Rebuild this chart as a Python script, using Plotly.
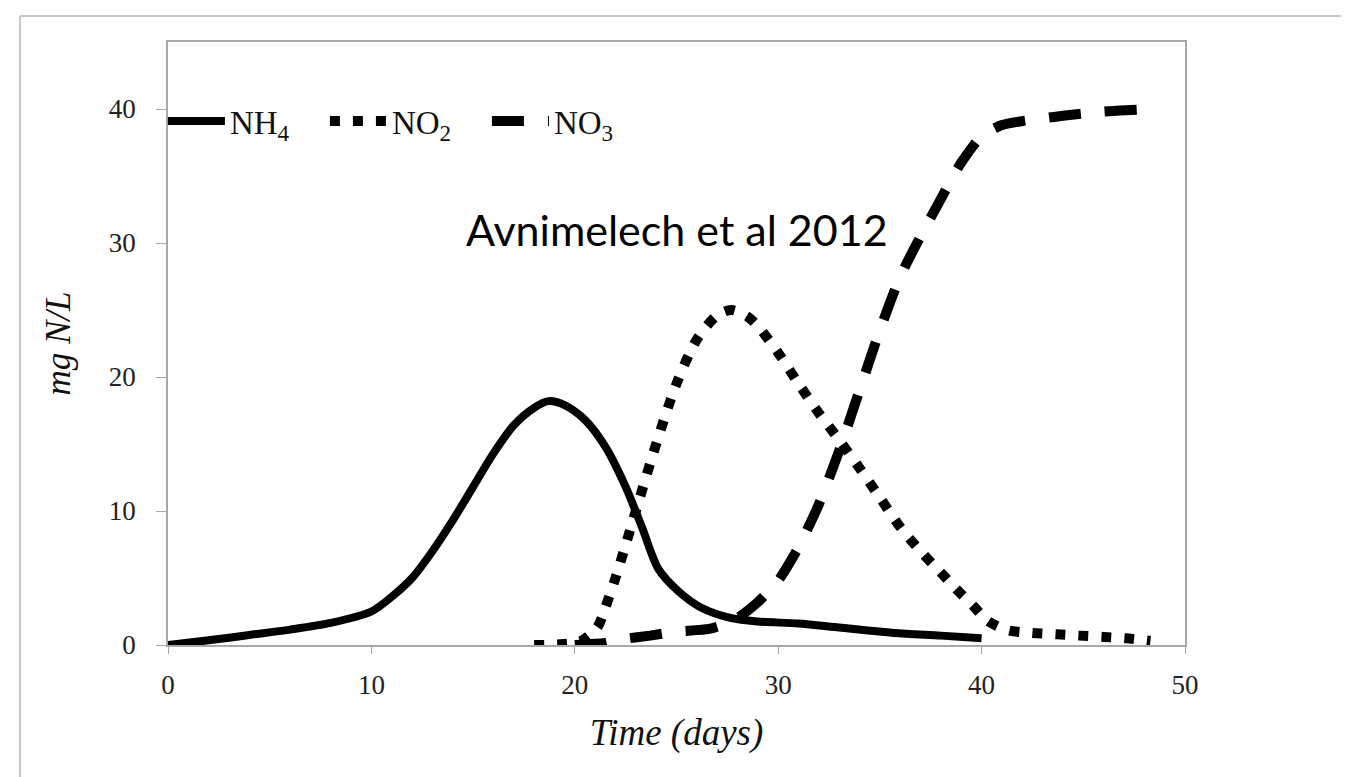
import plotly.graph_objects as go

# NH4 (solid)
nh4_days = [0, 2, 4, 6, 8, 10, 11, 12, 13, 14, 15, 16, 17, 18, 18.7, 19.5, 20.5, 21.5,
            22.5, 23.3, 24.1, 25.1, 26.2, 27.7, 29, 31, 33, 35.7, 38, 40]
nh4_vals = [0, 0.35, 0.75, 1.15, 1.65, 2.5, 3.6, 5.0, 7.0, 9.3, 11.8, 14.3, 16.4, 17.7, 18.2, 17.9, 16.8, 14.8,
            11.8, 8.8, 5.7, 4.0, 2.8, 2.0, 1.75, 1.6, 1.3, 0.9, 0.7, 0.5]

# NO2 (dotted)
no2_days = [18, 19.3, 20.3, 21.1, 21.5, 22, 23, 24, 25, 26, 27, 27.7, 28.5, 29, 30, 31, 32, 33,
            34, 35, 36, 37, 38, 38.8, 39.6, 40.3, 41.3, 42.5, 43.7, 44.8, 46, 47.1, 48.3]
no2_vals = [0, 0.05, 0.3, 1.3, 2.8, 5.0, 10.0, 15.0, 19.5, 22.8, 24.6, 25.0, 24.5, 23.8, 21.8, 19.5, 17.3, 15.3,
            13.2, 11.0, 8.8, 7.0, 5.4, 4.1, 2.9, 1.8, 1.1, 0.9, 0.8, 0.7, 0.6, 0.5, 0.3]

# NO3 (dashed)
no3_days = [20, 21.5, 22.2, 23.7, 25, 26.6, 27.8, 29, 30, 31, 32, 33, 34, 35, 36, 37, 38, 39,
            40, 41, 42, 43, 44, 46, 48.5]
no3_vals = [0, 0.15, 0.4, 0.7, 1.0, 1.2, 1.8, 3.2, 4.8, 7.3, 10.5, 14.5, 19.0, 23.5, 27.5, 30.5, 33.3, 36.0,
            38.0, 38.8, 39.1, 39.3, 39.5, 39.8, 40.0]

x_ticks = [0, 10, 20, 30, 40, 50]
y_ticks = [0, 10, 20, 30, 40]

fig = go.Figure()
fig.add_trace(go.Scatter(x=nh4_days, y=nh4_vals, mode='lines', name='NH<sub>4</sub>',
                         line=dict(color='black', width=8, shape='spline', smoothing=0.8)))
fig.add_trace(go.Scatter(x=no2_days, y=no2_vals, mode='lines', name='NO<sub>2</sub>',
                         line=dict(color='black', width=10, dash='10px,13px', shape='spline', smoothing=0.8)))
fig.add_trace(go.Scatter(x=no3_days, y=no3_vals, mode='lines', name='NO<sub>3</sub>',
                         line=dict(color='black', width=10, dash='32px,24px', shape='spline', smoothing=0.6)))

axis_col = '#a8a8a8'
serif = 'Liberation Serif'

fig.update_xaxes(range=[0, 50], tickvals=x_ticks, showline=True, linecolor=axis_col, linewidth=1.5, mirror=True,
                 ticks='outside', ticklen=7, tickcolor=axis_col, showgrid=False, zeroline=False,
                 tickfont=dict(family=serif, size=27, color='#222'), ticklabelstandoff=8,
                 title=dict(text='Time (days)', standoff=20,
                            font=dict(family=serif, size=37, style='italic', color='#111')))
fig.update_yaxes(range=[0, 45], tickvals=y_ticks, showline=True, linecolor=axis_col, linewidth=1.5, mirror=True,
                 ticks='outside', ticklen=10, tickcolor=axis_col, showgrid=False, zeroline=False,
                 tickfont=dict(family=serif, size=27, color='#222'), ticklabelstandoff=15,
                 title=dict(text='mg N/L', standoff=28,
                            font=dict(family=serif, size=35, style='italic', color='#111')))

fig.add_annotation(x=25.0, y=31.0, xref='x', yref='y', text='Avnimelech et al 2012', showarrow=False,
                   font=dict(family='Lato', size=43, color='black'), xanchor='center', yanchor='middle')

# outer frame (left and top edges only visible)
fig.add_shape(type='line', xref='paper', yref='paper', x0=-0.1455, x1=-0.1455, y0=1.0431, y1=-0.25,
              line=dict(color='#c8c8c8', width=2))
fig.add_shape(type='line', xref='paper', yref='paper', x0=-0.1455, x1=1.2, y0=1.0431, y1=1.0431,
              line=dict(color='#c8c8c8', width=2))

fig.update_layout(width=1349, height=777, margin=dict(l=160, r=172, t=34, b=140),
                  paper_bgcolor='white', plot_bgcolor='white',
                  legend=dict(orientation='h', x=-0.005, y=0.869, xanchor='left', yanchor='middle',
                              itemwidth=57, entrywidth=90, entrywidthmode='pixels',
                              font=dict(family=serif, size=33, color='#111'), bgcolor='rgba(0,0,0,0)'))

fig.write_html("out.html")
